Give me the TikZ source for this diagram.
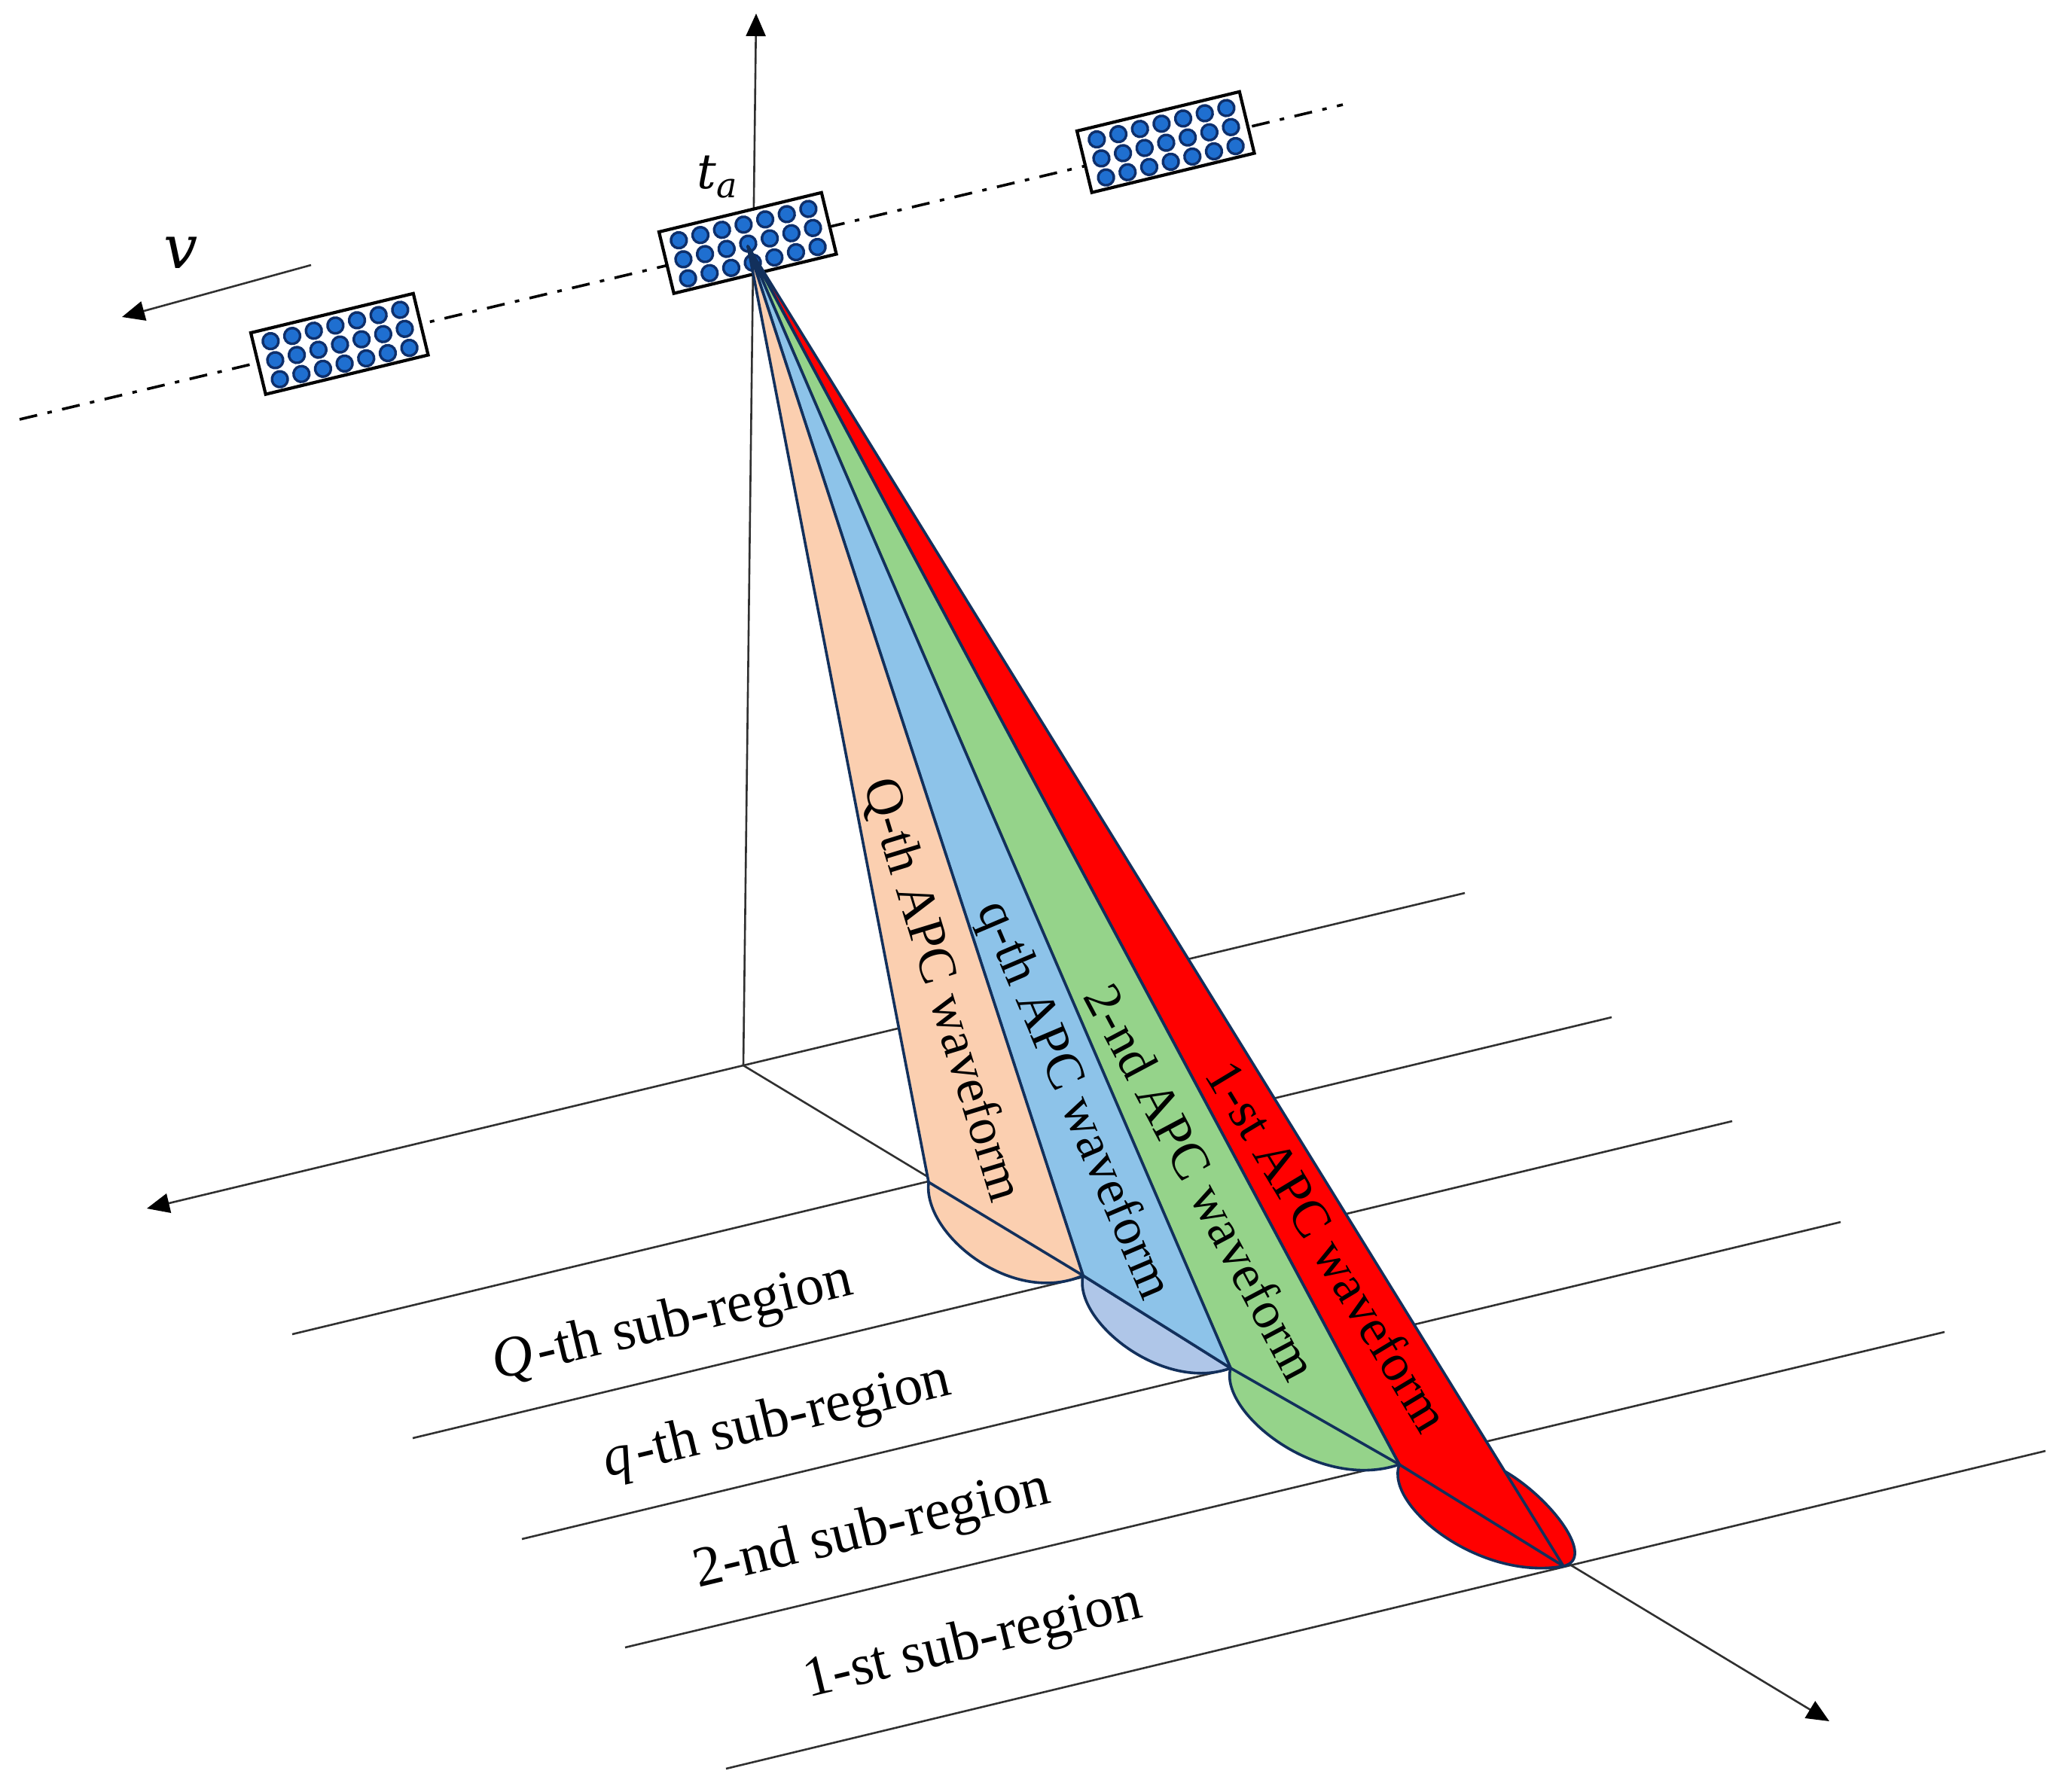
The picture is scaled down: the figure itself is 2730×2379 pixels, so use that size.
\documentclass[tikz,border=0pt]{standalone}
\usepackage{fontspec}
\setmainfont{Liberation Serif}
\newfontfamily\mathish{DejaVu Serif}
\usetikzlibrary{arrows.meta}
\definecolor{edgeblue}{HTML}{12305C}
\definecolor{peach}{HTML}{FBCFB0}
\definecolor{skyb}{HTML}{8DC3E9}
\definecolor{paleb}{HTML}{AFC6E8}
\definecolor{leaf}{HTML}{95D38A}
\definecolor{dotblue}{HTML}{1F6FD0}
\definecolor{dotedge}{HTML}{0E2F6B}
\definecolor{axisgrey}{HTML}{303030}
\tikzset{
 axisline/.style={axisgrey,line width=1.3pt},
 arrowline/.style={axisline,-{Triangle[length=15pt,width=13pt,black]}},
 track/.style={black,line width=1.8pt,dash pattern=on 12pt off 7pt on 3pt off 7pt},
 beam/.style={draw=edgeblue,line width=1.8pt,line join=round},
 regionlabel/.style={font=\fontsize{38}{46}\selectfont,rotate=13.5,inner sep=0pt},
 beamlabel/.style={font=\fontsize{35}{40}\selectfont,inner sep=0pt},
 paneldot/.style={fill=dotblue,draw=dotedge,line width=1.7pt},
 panelbox/.style={fill=white,draw=black,line width=2.1pt}
}
\newcommand{\satpanel}[2]{%
 \begin{scope}[shift={(#1,#2)},rotate=13.6]
  \draw[panelbox] (0,0) rectangle (222,84);
  \foreach \c in {0,...,6}{\foreach \r in {0,1,2}{
   \path[paneldot] ({23+29.5*\c},{17+26*\r}) circle (10.5);}}
 \end{scope}}
\begin{document}
\begin{tikzpicture}[x=0.5pt,y=-0.5pt]
\useasboundingbox (0,0) rectangle (2730,2379);
% reference points
\coordinate (apex) at (993,327);
\coordinate (O) at (987,1415);
\coordinate (ztop) at (1004,18);
\coordinate (xtip) at (195,1605);
\coordinate (xback) at (1945,1186);
\coordinate (rtip) at (2429,2286);
\coordinate (P0) at (1233,1570);
\coordinate (P1) at (1438,1694);
\coordinate (P2) at (1634,1817);
\coordinate (P3) at (1858,1945);
\coordinate (P4) at (2076,2080);
\coordinate (PR) at (1998,1954);
\coordinate (tA) at (26,557);
\coordinate (tB) at (1783,139);
\coordinate (vA) at (413,352);
\coordinate (vB) at (162,421);
\coordinate (a1) at (2140,1351); \coordinate (b1) at (388,1772);
\coordinate (a2) at (2300,1489); \coordinate (b2) at (548,1910);
\coordinate (a3) at (2444,1623); \coordinate (b3) at (693,2044);
\coordinate (a4) at (2582,1769); \coordinate (b4) at (830,2188);
\coordinate (a5) at (2716,1927); \coordinate (b5) at (964,2349);
% axes and strips
\draw[arrowline] (O) -- (ztop);
\draw[axisline] (xback) -- (O);
\draw[arrowline] (O) -- (xtip);
\draw[arrowline] (O) -- (rtip);
\foreach \i in {1,...,5}{\draw[axisline] (a\i) -- (b\i);}
% track and panels
\draw[track] (tA) -- (tB);
\draw[arrowline] (vA) -- (vB);
\satpanel{875}{308}
\satpanel{1430}{174}
\satpanel{333}{442}
% beams
\path[beam,fill=red] (apex) -- (P3)
 .. controls (1838,2000) and (1965,2100) .. (P4)
 .. controls (2120,2070) and (2060,1990) .. (PR) -- cycle;
\draw[beam] (P3) -- (P4) -- (PR);
\draw[beam] (apex) -- (P3);
\path[beam,fill=leaf] (apex) -- (P2)
 .. controls (1618,1875) and (1750,1982) .. (P3) -- cycle;
\draw[beam] (P2) -- (P3);
\path[beam,fill=paleb] (P1)
 .. controls (1425,1755) and (1545,1850) .. (P2) -- cycle;
\path[beam,fill=skyb] (apex) -- (P1) -- (P2) -- cycle;
\path[beam,fill=peach] (apex) -- (P0)
 .. controls (1225,1640) and (1345,1735) .. (P1) -- cycle;
\draw[beam] (P0) -- (P1);
% labels
\node[beamlabel,rotate=-73] (lQ) at (1250,1315) {Q-th APC waveform};
\node[beamlabel,rotate=-67] (lq) at (1424,1462) {q-th APC waveform};
\node[beamlabel,rotate=-62] (l2) at (1596,1570) {2-nd APC waveform};
\node[beamlabel,rotate=-59] (l1) at (1764,1655) {1-st APC waveform};
\node[regionlabel] (rQ) at (893,1758) {\textit{Q}\kern3pt-th sub-region};
\node[regionlabel] (rq) at (1032,1889) {\textit{q}\kern3pt-th sub-region};
\node[regionlabel] (r2) at (1158,2034) {2-nd sub-region};
\node[regionlabel] (r1) at (1292,2183) {1-st sub-region};
\node[font=\fontsize{32}{38}\mathish\itshape] (ta) at (952,235) {t\raisebox{-6pt}{\fontsize{23}{28}\selectfont a}};
\node[font=\fontsize{40}{46}\mathish\itshape] (vv) at (240,336) {v};
\end{tikzpicture}
\end{document}
